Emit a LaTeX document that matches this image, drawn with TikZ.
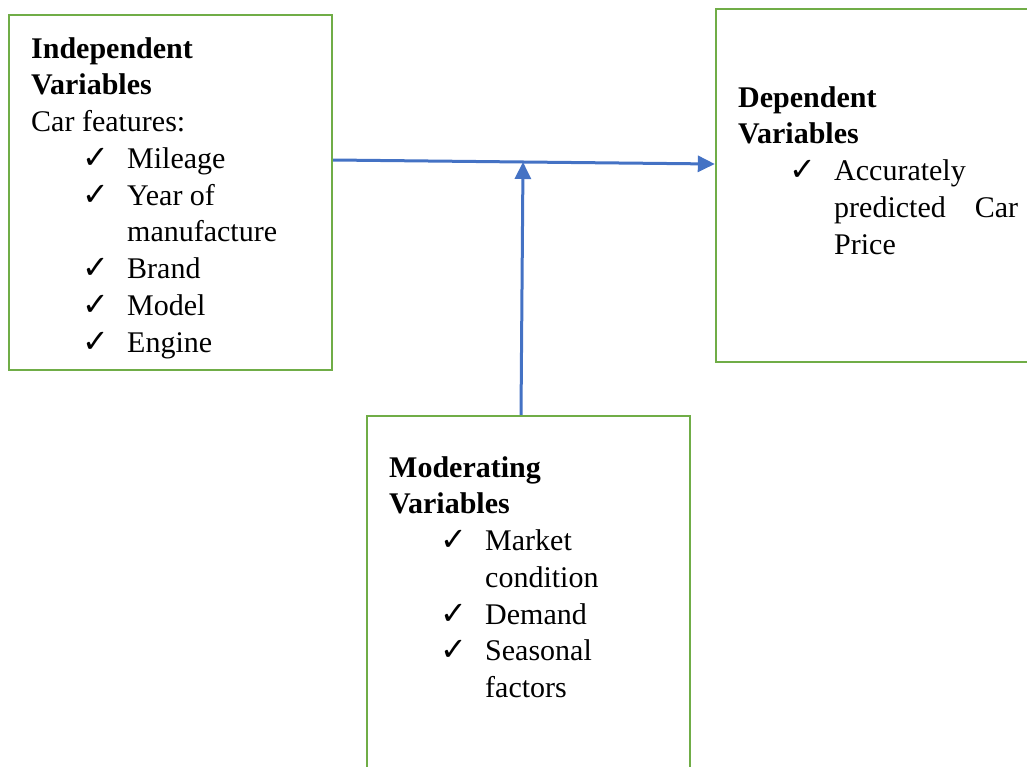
\documentclass[tikz,border=0pt]{standalone}
\usepackage{fontspec}
\setmainfont{Liberation Serif}
\newfontfamily\symfont{DejaVu Sans}
\usetikzlibrary{arrows.meta}

\definecolor{boxgreen}{HTML}{70AD47}
\definecolor{flowblue}{HTML}{4472C4}

\newcommand{\chk}{{\symfont\fontsize{32}{32}\selectfont ✓}}
\newcommand{\citem}[1]{\hspace*{51pt}\makebox[45pt][l]{\chk}#1}
\newcommand{\contline}[1]{\hspace*{96pt}#1}

\begin{document}
\begin{tikzpicture}[x=1pt, y=-1pt,
    varbox/.style={draw=boxgreen, line width=2.4pt},
    boxtext/.style={anchor=base west, inner sep=0pt, font=\fontsize{30}{36.75}\selectfont},
    flow/.style={draw=flowblue, line width=3pt, -{Triangle[length=17pt,width=16pt]}}]
        \clip (0,0) rectangle (1027,766);

        % the three boxes
        \node[varbox, minimum width=323pt, minimum height=355pt] (indep) at (170.5,192.5) {};
        \node[varbox, minimum width=324pt, minimum height=353pt] (dep) at (878,185.5) {};
        \node[varbox, minimum width=323pt, minimum height=380pt] (moder) at (528.5,606) {};

        % their texts
        \node[boxtext] (indtext) at (31,58) {\parbox[t]{300pt}{\raggedright
            \textbf{Independent}\\
            \textbf{Variables}\\
            Car features:\\
            \citem{Mileage}\\
            \citem{Year of}\\
            \contline{manufacture}\\
            \citem{Brand}\\
            \citem{Model}\\
            \citem{Engine}}};
        \node[boxtext] (deptext) at (738,107) {\parbox[t]{300pt}{\raggedright
            \textbf{Dependent}\\
            \textbf{Variables}\\
            \citem{Accurately}\\
            \contline{\makebox[184pt][l]{predicted\hfill Car}}\\
            \contline{Price}}};
        \node[boxtext] (modtext) at (389,477) {\parbox[t]{300pt}{\raggedright
            \textbf{Moderating}\\
            \textbf{Variables}\\
            \citem{Market}\\
            \contline{condition}\\
            \citem{Demand}\\
            \citem{Seasonal}\\
            \contline{factors}}};

        % arrows
        \coordinate (meet) at (523,162);
        \draw[flow] (indep.east |- 0,160) -- (dep.west |- 0,164);
        \draw[flow] (moder.north -| 521,0) -- (meet);
\end{tikzpicture}
\end{document}
